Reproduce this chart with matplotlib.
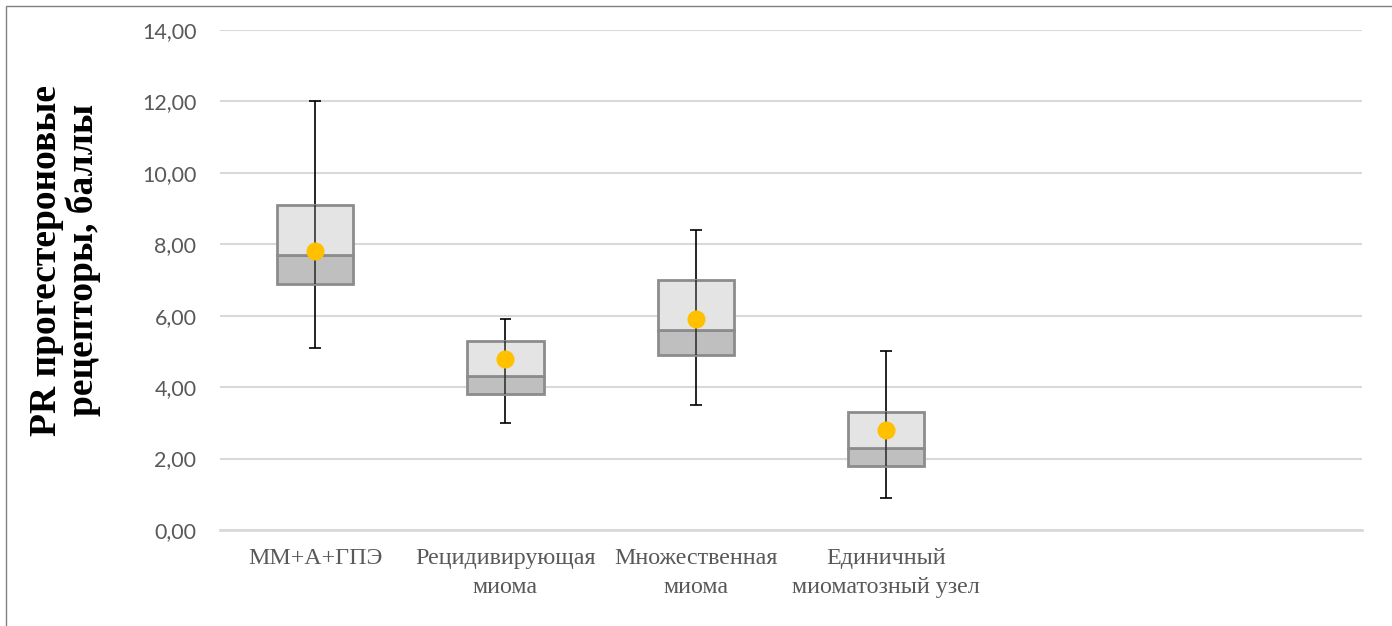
import numpy as np
from matplotlib import pyplot as plt
from matplotlib.patches import Rectangle

#------------------------------------------------------------------------------
# Data
#------------------------------------------------------------------------------
categories = ["ММ+А+ГПЭ", "Рецидивирующая\nмиома", "Множественная\nмиома",
              "Единичный\nмиоматозный узел", "", ""]
q1      = [6.9, 3.8, 4.9, 1.8]
median  = [7.7, 4.3, 5.6, 2.3]
q3      = [9.1, 5.3, 7.0, 3.3]
w_low   = [5.1, 3.0, 3.5, 0.9]
w_high  = [12.0, 5.9, 8.4, 5.0]
means   = [7.8, 4.8, 5.9, 2.8]

#------------------------------------------------------------------------------
# Plot
#------------------------------------------------------------------------------
fig = plt.figure( figsize=( 13.92, 6.26 ), dpi=100 )
ax = fig.add_axes( [220 / 1392, 1 - 530 / 626, 1142 / 1392, 500 / 626] )

x = np.arange( len( q1 ) )
q1 = np.array( q1 )
median = np.array( median )
q3 = np.array( q3 )
edge = '#8c8c8c'

ax.bar( x, median - q1, bottom=q1, width=0.4, color='#bfbfbf',
        edgecolor=edge, linewidth=2, zorder=3 )
ax.bar( x, q3 - median, bottom=median, width=0.4, color='#e4e4e4',
        edgecolor=edge, linewidth=2, zorder=3 )

# whiskers
ax.vlines( x, w_low, q1, color='black', linewidth=1.2, zorder=2 )
ax.vlines( x, q3, w_high, color='black', linewidth=1.2, zorder=2 )
ax.vlines( x, q1, q3, color='#333333', linewidth=1.2, zorder=4 )
ax.hlines( w_low, x - 0.03, x + 0.03, color='black', linewidth=1.2, zorder=2 )
ax.hlines( w_high, x - 0.03, x + 0.03, color='black', linewidth=1.2, zorder=2 )

ax.plot( x, means, 'o', color='#ffc000', markersize=12, zorder=5 )

ax.set_xlim( -0.5, len( categories ) - 0.5 )
ax.set_ylim( 0, 14 )
ax.set_yticks( np.arange( 0, 15, 2 ) )
ax.set_yticklabels( [( "%.2f" % v ).replace( '.', ',' ) for v in np.arange( 0, 15, 2 )],
                    fontsize=15.5, color='#595959', family='Lato' )
ax.set_xticks( np.arange( len( categories ) ) )
ax.set_xticklabels( categories, fontsize=17.3, color='#595959',
                    family='Liberation Serif', linespacing=1.5 )
ax.tick_params( axis='both', length=0 )
ax.tick_params( axis='y', pad=17 )
ax.tick_params( axis='x', pad=13 )

ax.grid( axis='y', color='#d9d9d9', linewidth=1.5, zorder=0 )
ax.set_axisbelow( True )
for s in ['left', 'right', 'top']:
  ax.spines[s].set_visible( False )
ax.spines['bottom'].set_color( '#d9d9d9' )
ax.spines['bottom'].set_linewidth( 2 )

fig.text( 65 / 1392, 1 - 260 / 626, "PR прогестероновые\nрецепторы, баллы",
          rotation=90, ha='center', va='center', fontsize=27,
          fontweight='bold', family='Liberation Serif', linespacing=1.08 )

# outer frame (only left and top visible)
fig.patches.append( Rectangle( ( 6 / 1392, -0.1 ), 1.2, 1 - 6 / 626 + 0.1,
                               transform=fig.transFigure, fill=False,
                               edgecolor='#808080', linewidth=1 ) )

fig.savefig( 'out.png' )
